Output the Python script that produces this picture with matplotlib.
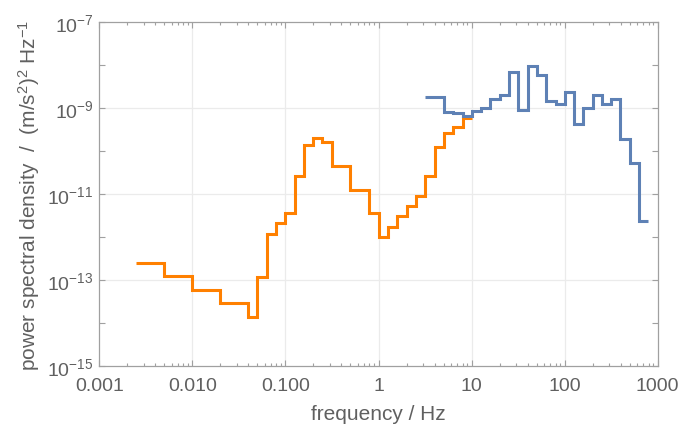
import matplotlib
matplotlib.use("Agg")
import matplotlib.pyplot as plt
from matplotlib.ticker import FixedLocator, NullFormatter, FixedFormatter, LogLocator

# ---- data ----
orange_edges = [0.0025, 0.005, 0.01, 0.02, 0.04, 0.05, 0.063, 0.08, 0.1, 0.126,
                0.158, 0.2, 0.25, 0.316, 0.5, 0.8, 1.0, 1.26, 1.58, 2.0, 2.5,
                3.16, 4.0, 5.0, 6.3, 8.0, 10.0]
orange_psd = [2.47e-13, 1.23e-13, 5.9e-14, 2.95e-14, 1.37e-14, 1.19e-13, 1.18e-12,
              2.09e-12, 3.68e-12, 2.66e-11, 1.35e-10, 1.97e-10, 1.59e-10, 4.47e-11,
              1.26e-11, 3.57e-12, 1.02e-12, 1.74e-12, 3.04e-12, 5.19e-12, 8.85e-12,
              2.66e-11, 1.21e-10, 2.56e-10, 3.54e-10, 5.97e-10]

blue_edges = [3.16, 5.0, 6.3, 8.0, 10.0, 12.6, 15.8, 20.0, 25.0, 31.6, 40.0, 50.0,
              63.0, 80.0, 100.0, 126.0, 158.0, 200.0, 251.0, 316.0, 398.0, 501.0,
              631.0, 794.0]
blue_psd = [1.82e-9, 8.15e-10, 7.6e-10, 6.37e-10, 8.32e-10, 9.8e-10, 1.63e-9, 2.02e-9,
            6.68e-9, 8.77e-10, 9.22e-9, 5.8e-9, 1.47e-9, 1.23e-9, 2.37e-9, 4.15e-10,
            9.77e-10, 1.96e-9, 1.25e-9, 1.61e-9, 1.92e-10, 5.25e-11, 2.33e-12]

x_ticks = [0.001, 0.01, 0.1, 1, 10, 100, 1000]
x_ticklabels = ["0.001", "0.010", "0.100", "1", "10", "100", "1000"]
y_label_exps = [-15, -13, -11, -9, -7]

# ---- style ----
plt.rcParams['font.family'] = ['Liberation Sans', 'DejaVu Sans']
plt.rcParams['mathtext.fontset'] = 'custom'
plt.rcParams['mathtext.rm'] = 'Liberation Sans'
plt.rcParams['mathtext.it'] = 'Liberation Sans'
plt.rcParams['mathtext.bf'] = 'Liberation Sans'

text_col = '#606060'
frame_col = '#a0a0a0'
grid_col = '#ebebeb'

fig = plt.figure(figsize=(6.82, 4.27), dpi=100)
ax = fig.add_axes([0.1456, 0.1398, 0.9644 - 0.1456, 0.9468 - 0.1398])

ax.set_xscale('log')
ax.set_yscale('log')
ax.set_xlim(1e-3, 1e3)
ax.set_ylim(1e-15, 1e-7)

ax.stairs(orange_psd, orange_edges, baseline=None, color='#ff8000', lw=2.2, zorder=3)
ax.stairs(blue_psd, blue_edges, baseline=None, color='#5e81b5', lw=2.2, zorder=3)

# ticks
ax.xaxis.set_major_locator(FixedLocator(x_ticks))
ax.xaxis.set_major_formatter(FixedFormatter(x_ticklabels))
ax.xaxis.set_minor_locator(LogLocator(base=10, subs=range(2, 10), numticks=20))
ax.xaxis.set_minor_formatter(NullFormatter())

y_major = [10.0 ** e for e in range(-15, -6)]
ax.yaxis.set_major_locator(FixedLocator(y_major))
ax.yaxis.set_major_formatter(FixedFormatter(
    [r"$10^{%d}$" % e if e in y_label_exps else "" for e in range(-15, -6)]))
ax.yaxis.set_minor_locator(FixedLocator([]))

ax.tick_params(which='both', direction='in', top=True, right=True,
               color=frame_col, labelcolor=text_col, labelsize=14, width=0.8)
ax.tick_params(which='major', length=4, pad=4)
ax.tick_params(axis='x', which='major', pad=8)
ax.tick_params(which='minor', length=2.5)

for s in ax.spines.values():
    s.set_color(frame_col)
    s.set_linewidth(0.9)

# grid
for xv in x_ticks[1:-1]:
    ax.axvline(xv, color=grid_col, lw=0.9, zorder=1)
for e in y_label_exps[1:-1]:
    ax.axhline(10.0 ** e, color=grid_col, lw=0.9, zorder=1)

ax.set_xlabel("frequency / Hz", color=text_col, fontsize=15, labelpad=7)
ax.set_ylabel(r"power spectral density  /  (m/s$^2$)$^2$ Hz$^{-1}$",
              color=text_col, fontsize=15, labelpad=4)

fig.savefig("out.png", dpi=100)
